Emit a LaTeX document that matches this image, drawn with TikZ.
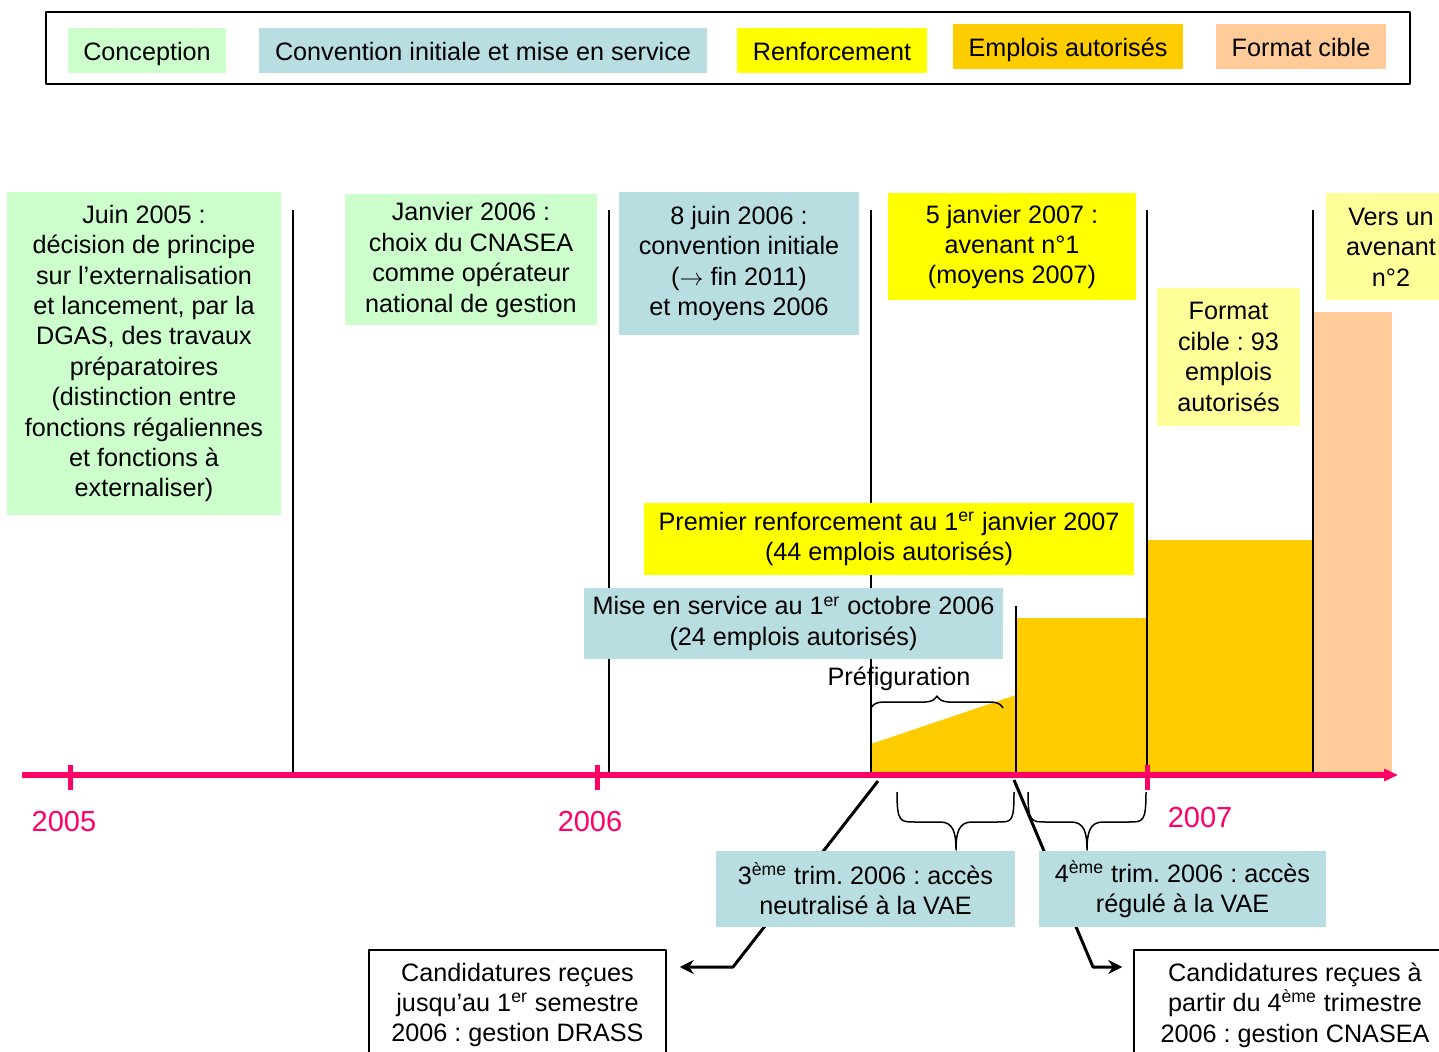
\documentclass[tikz,border=0pt]{standalone}
\usepackage{fontspec}
\setmainfont{Liberation Sans}
\usetikzlibrary{decorations.pathreplacing,arrows.meta}
\definecolor{vert}{HTML}{CCFFCC}
\definecolor{bleu}{RGB}{184,222,226}
\definecolor{jaune}{HTML}{FFFF00}
\definecolor{emploi}{HTML}{FFCC00}
\definecolor{peche}{HTML}{FFCC99}
\definecolor{jaunepale}{HTML}{FFFF99}
\definecolor{rose}{HTML}{FF0066}
\frenchspacing
\begin{document}
\begin{tikzpicture}[x=.5pt,y=-.5pt,line join=round,>={Stealth[length=7pt,width=7pt]},
		txt/.style={font=\fontsize{12.6}{15.2}\selectfont,align=center,inner sep=0pt},
		boite/.style={txt,fill=#1},
		legende/.style={boite=#1,minimum height=22.5pt,text height=12pt,text depth=2pt},
		annee/.style={font=\fontsize{14.5}{16}\selectfont,text=rose},
		trait/.style={line width=.75pt},
		fleche/.style={line width=1.5pt,->}]
		\useasboundingbox (0,0) rectangle (1439,1052);
		\clip (0,0) rectangle (1439,1052);
		% legende
		\draw[trait] (46,12) rectangle (1410,84);
		\node[legende=vert,minimum width=79pt] (leg1) at (147,50.5) {Conception};
		\node[legende=bleu,minimum width=224pt] (leg2) at (483,50.5) {Convention initiale et mise en service};
		\node[legende=jaune,minimum width=95pt] (leg3) at (832,50.5) {Renforcement};
		\node[legende=emploi,minimum width=115pt] (leg4) at (1068,46.5) {Emplois autorisés};
		\node[legende=peche,minimum width=85pt] (leg5) at (1301,46.5) {Format cible};
		% emplois
		\fill[emploi] (871,744) -- (1016,695) -- (1016,775) -- (871,775) -- cycle;
		\fill[emploi] (1016,618) rectangle (1147,775);
		\fill[emploi] (1147,540) rectangle (1313,775);
		\fill[peche] (1313,312) rectangle (1392,775);
		% reperes
		\foreach \x in {293,609,871,1147,1313}
			\draw[trait] (\x,210) -- (\x,775);
		\draw[trait] (1016,606) -- (1016,775);
		\draw[line width=1.3pt] (1147,523) -- (1147,775);
		\draw[line width=1.3pt] (1313,307) -- (1313,775);
		% axe
		\draw[rose,line width=3pt,-{Triangle[length=7pt,width=6pt]}] (22,775) -- (1398,775);
		\foreach \x in {70,597,1147}
			\draw[rose,line width=2.5pt] (\x,765) -- (\x,790);
		\node[annee] (a2005) at (64,822) {2005};
		\node[annee] (a2006) at (590,822) {2006};
		\node[annee] (a2007) at (1200,818) {2007};
		% accolades
		\draw[trait,decorate,decoration={brace,amplitude=6pt}] (871,708) -- (1003,708);
		\node[txt] (prefig) at (899,679) {Préfiguration};
		\draw[trait] (897,792) .. controls (897,822) and (900,822) .. (915,822) -- (940,822)
			.. controls (953,822) and (956,832) .. (956,850)
			.. controls (956,832) and (959,822) .. (972,822) -- (998,822)
			.. controls (1012,822) and (1014,822) .. (1014,792);
		\draw[trait] (1028,792) .. controls (1028,822) and (1031,822) .. (1046,822) -- (1071,822)
			.. controls (1084,822) and (1087,832) .. (1087,850)
			.. controls (1087,832) and (1090,822) .. (1103,822) -- (1129,822)
			.. controls (1143,822) and (1146,822) .. (1146,792);
		% candidatures
		\node[txt,draw,trait,fill=white,minimum width=148.5pt,minimum height=55pt] (drass) at (517.5,1005)
			{Candidatures reçues\\jusqu’au 1\textsuperscript{er} semestre\\2006 : gestion DRASS};
		\node[txt,draw,trait,fill=white,minimum width=161pt,minimum height=55pt] (cnasea) at (1295,1005)
			{Candidatures reçues à\\partir du 4\textsuperscript{ème} trimestre\\2006 : gestion CNASEA};
		\coordinate (d3) at (878,781);
		\coordinate (k3) at (733,967);
		\coordinate (d4) at (1014,780);
		\coordinate (k4) at (1093,967);
		\draw[fleche] (d3) -- (k3) -- ([xshift=6.5pt]drass.east |- k3);
		\draw[fleche] (d4) -- (k4) -- ([xshift=-5.5pt]cnasea.west |- k4);
		% etapes
		\node[boite=vert,minimum width=137pt,minimum height=161.5pt] (juin05) at (144,353.5)
			{Juin 2005 :\\décision de principe\\sur l’externalisation\\et lancement, par la\\DGAS, des travaux\\préparatoires\\(distinction entre\\fonctions régaliennes\\et fonctions à\\externaliser)};
		\node[boite=vert,minimum width=126pt,minimum height=65.5pt] (jan06) at (471,260)
			{Janvier 2006 :\\choix du CNASEA\\comme opérateur\\national de gestion};
		\node[boite=bleu,minimum width=120pt,minimum height=71.5pt] (juin06) at (739,263.5)
			{8 juin 2006 :\\convention initiale\\($\rightarrow$ fin 2011)\\et moyens 2006};
		\node[boite=jaune,minimum width=124pt,minimum height=53.5pt] (jan07) at (1012,247)
			{5 janvier 2007 :\\avenant n°1\\(moyens 2007)};
		\node[boite=jaunepale,minimum width=71.5pt,minimum height=69pt] (cible) at (1228.5,357)
			{Format\\cible : 93\\emplois\\autorisés};
		\node[boite=jaunepale,minimum width=65pt,minimum height=53.5pt] (avenant2) at (1391,247)
			{Vers un\\avenant\\n°2};
		\node[boite=jaune,minimum width=245pt,minimum height=36pt] (renfort) at (889,539)
			{Premier renforcement au 1\textsuperscript{er} janvier 2007\\(44 emplois autorisés)};
		\node[boite=bleu,minimum width=209.5pt,minimum height=35.5pt] (miseserv) at (793.5,623.5)
			{Mise en service au 1\textsuperscript{er} octobre 2006\\(24 emplois autorisés)};
		\node[boite=bleu,minimum width=149.5pt,minimum height=38pt] (trim3) at (865.5,889)
			{3\textsuperscript{ème} trim. 2006 : accès\\neutralisé à la VAE};
		\node[boite=bleu,minimum width=143.5pt,minimum height=38pt] (trim4) at (1182.5,889)
			{4\textsuperscript{ème} trim. 2006 : accès\\régulé à la VAE};
	\end{tikzpicture}
\end{document}
